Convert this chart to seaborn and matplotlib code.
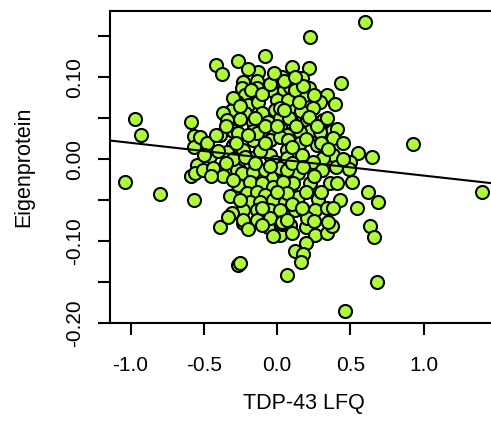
import matplotlib
matplotlib.use("Agg")
import matplotlib.pyplot as plt
import seaborn as sns
import pandas as pd

# TDP-43 LFQ (x) and Eigenprotein (y)
tdp43 = [
    -1.04, -0.97, -0.93, -0.80, -0.59, -0.57, -0.57, -0.59, -0.57, 0.60, 0.225, 0.93, 0.65, 1.40, 0.46, 0.68,
    0.089, 0.198, 0.259, 0.341, 0.375, 0.198, 0.123, 0.177, 0.164, 0.068, 0.635, 0.662, 0.02,
    -0.389, -0.232, -0.061, 0.034, -0.027, -0.266, -0.253,
    -0.082, -0.266, -0.416, -0.375, -0.130, -0.137, 0.034, -0.232, -0.137, -0.041, 0.048, -0.239, -0.218,
    0.0, -0.273, -0.198, -0.130, -0.014, 0.075, -0.307, -0.218, -0.369, -0.102, -0.253, -0.061, -0.164,
    -0.341, 0.020, -0.300, -0.164, -0.266, -0.034, -0.389, -0.102, -0.526, 0.041,
    0.102, 0.218, 0.171, 0.437, 0.089, 0.218, 0.191, 0.341, 0.396, 0.294, 0.246, 0.123, 0.164, 0.020,
    0.314, 0.102, 0.205, 0.375, 0.225, 0.294, 0.157, 0.068, 0.410,
    -0.478, -0.457, -0.300, -0.341, -0.232, -0.164, -0.137, -0.048, 0.020, 0.075, -0.171, -0.184, -0.048,
    -0.014, 0.068, 0.055, -0.546, -0.560, -0.505, -0.437, -0.369, -0.273, -0.239, -0.164, -0.082, -0.027,
    0.041, -0.266, -0.184, -0.102, -0.027, 0.055, -0.205, -0.137, -0.082, -0.184, -0.116, -0.027, 0.055,
    -0.232, -0.137, -0.048, 0.020, -0.307, -0.232, -0.334, -0.137, -0.048, 0.034,
    0.157, 0.273, 0.382, 0.382, 0.314, 0.246, 0.171, 0.068, 0.020, 0.143, 0.068, 0.307, 0.225, 0.362,
    0.410, 0.109, 0.041, 0.143, 0.068, 0.280, 0.259, 0.341, 0.430, 0.123, 0.068, 0.205, 0.348,
    0.553, 0.498, 0.491, 0.512, 0.621, 0.546, 0.689,
    -0.30, -0.25, -0.18, -0.10, -0.05, 0.05, 0.12, 0.15, 0.25, -0.35, -0.28, -0.20, -0.08, 0.00, 0.08,
    0.13, 0.22, 0.27, 0.34, -0.40, -0.30, -0.22, -0.12, -0.08, 0.10, 0.20, 0.30, 0.35, -0.45, -0.35,
    -0.30, -0.15, -0.05, 0.10, 0.18, 0.25, 0.30, 0.20, -0.32, -0.25, -0.10, 0.00, 0.10, 0.17, 0.25,
    -0.20, -0.10, 0.10, 0.38, 0.40, 0.45, 0.45, -0.50, -0.42, -0.15, 0.05, 0.18, -0.02, 0.12, -0.20,
]
eigen = [
    -0.028, 0.049, 0.029, -0.043, 0.045, 0.028, 0.015, -0.020, -0.050, 0.167, 0.149, 0.018, 0.003, -0.040, -0.185, -0.150,
    -0.080, -0.083, -0.093, -0.090, -0.082, -0.102, -0.112, -0.116, -0.126, -0.141, -0.082, -0.095, -0.093,
    -0.083, -0.078, -0.083, -0.079, -0.094, -0.129, -0.127,
    0.126, 0.120, 0.115, 0.104, 0.106, 0.095, 0.100, 0.094, 0.087, 0.084, 0.084, 0.087, 0.078,
    0.072, 0.070, 0.066, 0.070, 0.060, 0.072, 0.060, 0.057, 0.057, 0.057, 0.049, 0.045, 0.045,
    0.048, 0.050, 0.035, 0.035, 0.032, 0.033, 0.029, 0.027, 0.027, 0.037,
    0.113, 0.111, 0.099, 0.093, 0.088, 0.087, 0.079, 0.078, 0.068, 0.070, 0.062, 0.060, 0.059, 0.062,
    0.048, 0.044, 0.048, 0.035, 0.035, 0.033, 0.033, 0.029, 0.037,
    0.020, 0.004, 0.017, 0.009, 0.011, 0.023, 0.032, 0.023, 0.027, 0.023, 0.002, -0.005, 0.005,
    -0.004, 0.011, -0.004, -0.007, -0.017, -0.013, -0.011, -0.021, -0.013, -0.017, -0.016, -0.013, -0.023,
    -0.017, -0.032, -0.028, -0.029, -0.034, -0.035, -0.041, -0.040, -0.044, -0.052, -0.052, -0.050, -0.052,
    -0.062, -0.062, -0.062, -0.062, -0.066, -0.074, -0.071, -0.074, -0.072, -0.077,
    0.020, 0.017, 0.026, 0.005, 0.001, -0.004, 0.005, 0.001, -0.011, -0.017, -0.013, -0.013, -0.029, -0.029,
    -0.029, -0.029, -0.028, -0.046, -0.041, -0.048, -0.062, -0.060, -0.050, -0.062, -0.074, -0.072, -0.077,
    0.007, -0.004, -0.012, -0.028, -0.040, -0.060, -0.052,
    0.075, 0.065, 0.085, 0.080, 0.092, 0.095, 0.085, 0.070, 0.078, 0.040, 0.020, 0.030, 0.040, 0.040, 0.050,
    0.040, 0.052, 0.040, 0.050, 0.010, 0.000, 0.003, 0.010, 0.020, 0.015, 0.025, 0.020, 0.012, -0.020, -0.005,
    -0.025, -0.005, -0.008, -0.005, -0.010, -0.020, -0.040, -0.040, -0.045, -0.050, -0.060, -0.040, -0.055, -0.060, -0.075,
    -0.085, -0.080, -0.090, -0.060, -0.010, 0.020, 0.000, 0.005, 0.030, 0.050, 0.060, 0.090, 0.105, 0.100, 0.110,
]

# fitted line
fit_intercept = 0.0
fit_slope = -0.020

x_ticks = [-1.0, -0.5, 0.0, 0.5, 1.0]
x_tick_labels = ["-1.0", "-0.5", "0.0", "0.5", "1.0"]
y_ticks = [-0.20, -0.15, -0.10, -0.05, 0.0, 0.05, 0.10, 0.15]
y_tick_labels = ["-0.20", "", "-0.10", "", "0.00", "", "0.10", ""]

df = pd.DataFrame({"TDP-43 LFQ": tdp43, "Eigenprotein": eigen})

sns.set_style("white")
plt.rcParams["font.family"] = ["Liberation Sans", "DejaVu Sans"]

fig = plt.figure(figsize=(4.91, 4.29), dpi=100)
ax = fig.add_axes([0.2240, 0.2471, 0.7882, 0.7273])

sns.scatterplot(data=df, x="TDP-43 LFQ", y="Eigenprotein", ax=ax,
                color="#ADFF2F", edgecolor="black", linewidth=1.5, s=88,
                zorder=3, legend=False)
ax.axline((0, fit_intercept), slope=fit_slope, color="black", lw=1.5, zorder=4)

ax.set_xlim(-1.14, 1.50)
ax.set_ylim(-0.200, 0.181)
ax.set_xticks(x_ticks)
ax.set_xticklabels(x_tick_labels)
ax.set_yticks(y_ticks)
ax.set_yticklabels(y_tick_labels, rotation=90, va="center")

for s in ax.spines.values():
    s.set_visible(True)
    s.set_color("black")
    s.set_linewidth(1.5)

ax.tick_params(axis="both", which="both", direction="out", length=8.6, width=1.5,
               color="black", labelsize=15, labelcolor="black",
               bottom=True, left=True, top=False, right=False)
ax.tick_params(axis="x", pad=15)
ax.tick_params(axis="y", pad=10)

ax.set_xlabel("TDP-43 LFQ", fontsize=15.5, labelpad=13, color="black")
ax.set_ylabel("Eigenprotein", fontsize=15.5, labelpad=22, color="black")

fig.savefig("out.png", dpi=100)
